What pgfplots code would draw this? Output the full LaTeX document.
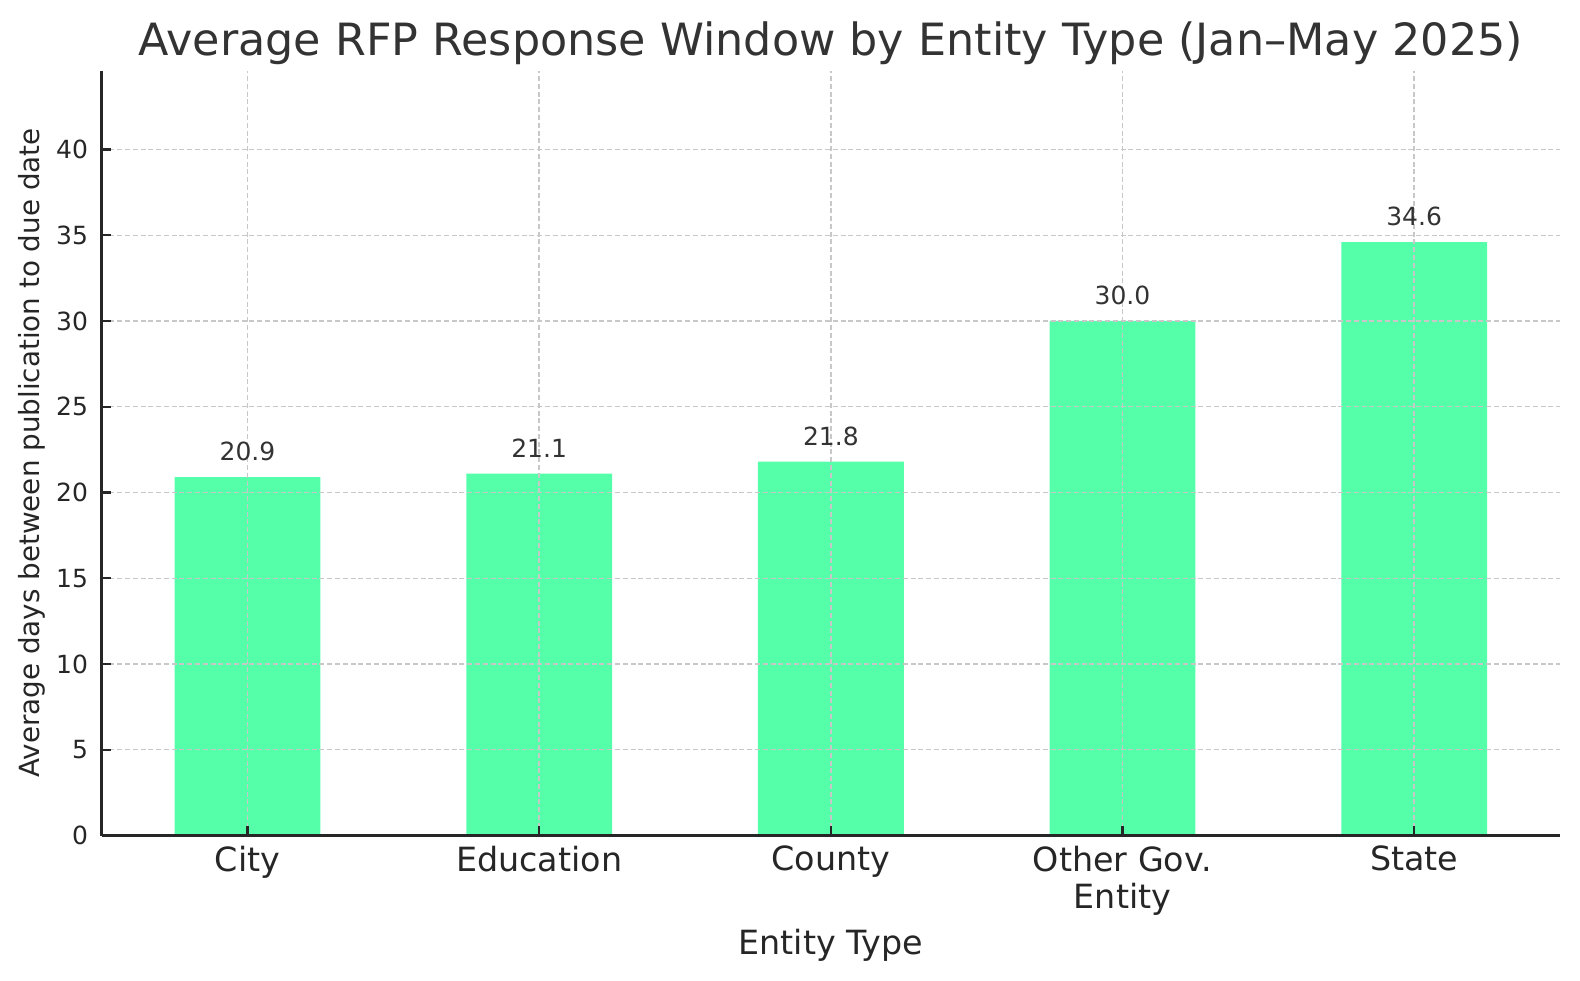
\documentclass[border=0pt]{standalone}
\usepackage{fontspec}
\setmainfont{DejaVu Sans}
\usepackage{pgfplots}
\pgfplotsset{compat=1.18}
\definecolor{barc}{HTML}{55FFAA}
\definecolor{gridc}{HTML}{C8C8C8}
\definecolor{spine}{HTML}{262626}
\definecolor{txt}{HTML}{333333}
\begin{document}
\begin{tikzpicture}
\begin{axis}[
  scale only axis,
  width=525pt, height=275.4pt,
  xmin=-0.5, xmax=4.5, ymin=0, ymax=44.6,
  axis x line*=bottom, axis y line*=left,
  axis line style={spine, line width=1pt},
  axis on top,
  ybar, bar width=0.5,
  xtick={0,1,2,3,4},
  xticklabels={City,Education,County,{Other Gov.\\Entity},State},
  ytick={0,5,10,15,20,25,30,35,40},
  tick align=inside,
  major tick length=3.5pt,
  tick style={spine, line width=0.8pt},
  grid=major,
  major grid style={gridc, line width=0.5pt, dash pattern=on 1.8pt off 1pt},
  /pgf/number format/assume math mode=true,
  xticklabel style={font=\fontsize{12}{13.4}\selectfont, text=spine, align=center, anchor=north, inner sep=0pt, yshift=-3.6pt},
  yticklabel style={font=\fontsize{9}{10}\selectfont, text=spine, anchor=east, inner sep=0pt, xshift=-4.7pt},
  nodes near coords={\pgfmathprintnumber[fixed,fixed zerofill,precision=1]{\pgfplotspointmeta}},
  every node near coord/.append style={font=\fontsize{9}{10}\selectfont, text=txt, anchor=base, inner sep=0pt, yshift=5.9pt},
  clip=false,
]
\addplot[fill=barc, draw=none] coordinates {(0,20.9) (1,21.1) (2,21.8) (3,30.0) (4,34.6)};
\coordinate (BL) at (rel axis cs:0,0);
\coordinate (TR) at (rel axis cs:1,1);
\coordinate (TM) at (rel axis cs:0.5,1);
\coordinate (BM) at (rel axis cs:0.5,0);
\coordinate (ML) at (rel axis cs:0,0.5);
\end{axis}
\node[anchor=base, inner sep=0pt, text=txt, font=\fontsize{16}{18}\selectfont] at ([yshift=5.5pt]TM) {Average RFP Response Window by Entity Type (Jan–May 2025)};
\node[anchor=base, inner sep=0pt, text=spine, font=\fontsize{12}{14}\selectfont] at ([yshift=-42.8pt]BM) {Entity Type};
\node[anchor=base, rotate=90, inner sep=0pt, text=spine, font=\fontsize{10}{12}\selectfont] at ([xshift=-22.3pt]ML) {Average days between publication to due date};
\pgfresetboundingbox
\path[use as bounding box] ([xshift=-36.6pt,yshift=-52.1pt]BL) rectangle ([xshift=7.2pt,yshift=25.4pt]TR);
\end{tikzpicture}
\end{document}
